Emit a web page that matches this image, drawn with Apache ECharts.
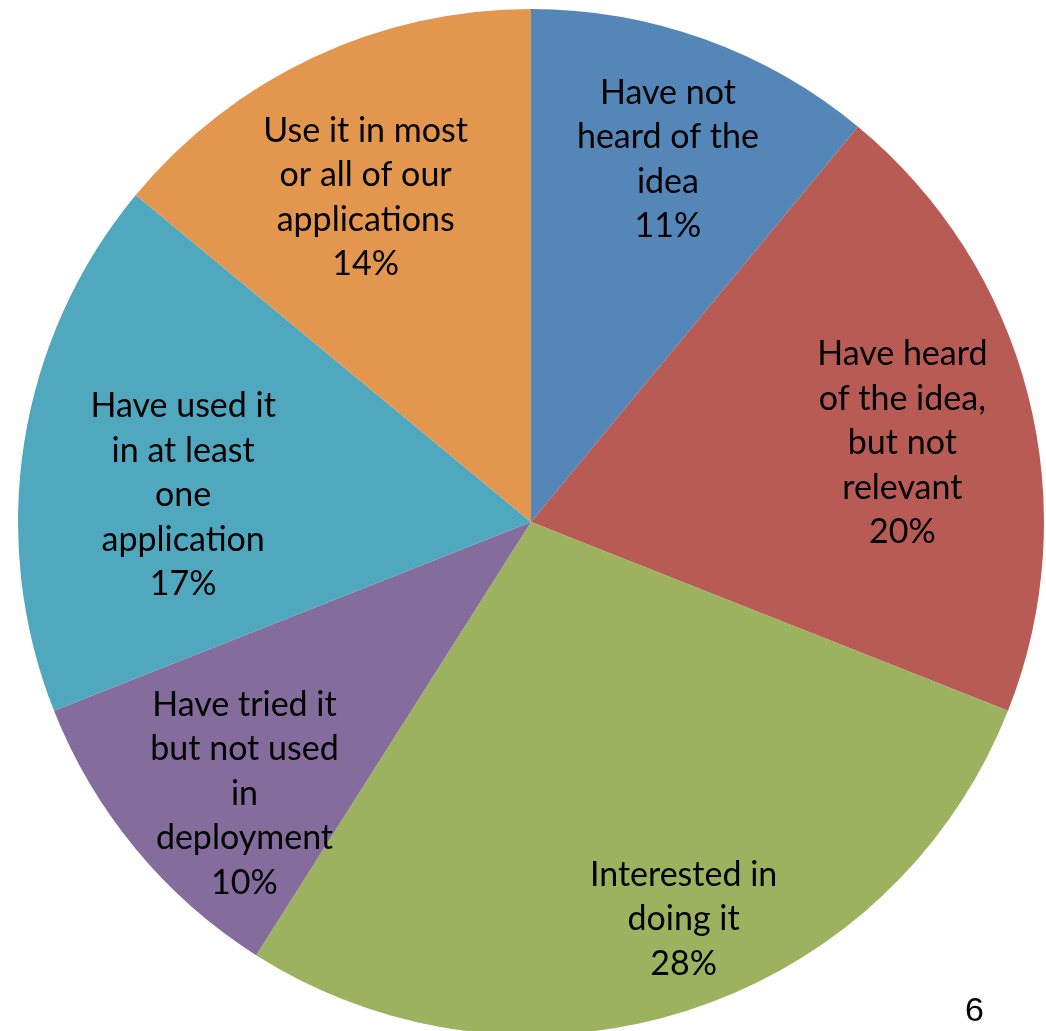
<!DOCTYPE html>
<html>
<head>
<meta charset="utf-8">
<script src="https://cdn.jsdelivr.net/npm/echarts@6/dist/echarts.min.js"></script>
<style>
  html, body { margin: 0; padding: 0; background: #ffffff; }
  #chart { width: 1046px; height: 1031px; }
</style>
</head>
<body>
<div id="chart"></div>
<script>
// Survey responses: awareness and use of the idea
const categories = [
  'Have not\nheard of the\nidea',
  'Have heard\nof the idea,\nbut not\nrelevant',
  'Interested in\ndoing it',
  'Have tried it\nbut not used\nin\ndeployment',
  'Have used it\nin at least\none\napplication',
  'Use it in most\nor all of our\napplications'
];
const percents = [11, 20, 28, 10, 17, 14];
const colors = ['#5586B8', '#B95B55', '#9CB25F', '#846C9D', '#50A8BF', '#E3964D'];

// Label placement inside each slice: fraction of radius and small angular nudge (degrees)
const labelRadius = [0.755, 0.74, 0.83, 0.77, 0.68, 0.71];
const labelAngleShift = [0.9, 2.4, -3.0, -3.9, -4.6, -1.8];

const CX = 531, CY = 522, R = 513;

const total = percents.reduce((a, b) => a + b, 0);
const midAngles = [];
let acc = 0;
percents.forEach(v => {
  midAngles.push((acc + v / 2) / total * 360);
  acc += v;
});

const chart = echarts.init(document.getElementById('chart'), null, { renderer: 'canvas' });
chart.setOption({
  animation: false,
  backgroundColor: '#ffffff',
  color: colors,
  series: [{
    type: 'pie',
    center: [CX, CY],
    radius: [0, R],
    startAngle: 90,
    clockwise: true,
    avoidLabelOverlap: false,
    itemStyle: { borderWidth: 0 },
    label: {
      show: true,
      position: 'inside',
      formatter: p => categories[p.dataIndex] + '\n' + percents[p.dataIndex] + '%',
      fontFamily: 'Lato',
      fontSize: 34,
      lineHeight: 44.5,
      color: '#000000',
      align: 'center'
    },
    labelLine: { show: false },
    emphasis: { disabled: true },
    labelLayout: params => {
      const i = params.dataIndex;
      const a = (midAngles[i] + labelAngleShift[i]) * Math.PI / 180;
      const d = labelRadius[i] * R;
      return {
        x: CX + d * Math.sin(a),
        y: CY - d * Math.cos(a),
        align: 'center',
        verticalAlign: 'middle'
      };
    },
    data: percents.map((v, i) => ({ name: categories[i], value: v }))
  }],
  graphic: [{
    type: 'text',
    left: 965,
    top: 995,
    style: {
      text: '6',
      font: '34px "Liberation Sans", Arial, sans-serif',
      fill: '#000000'
    }
  }]
});
</script>
</body>
</html>
